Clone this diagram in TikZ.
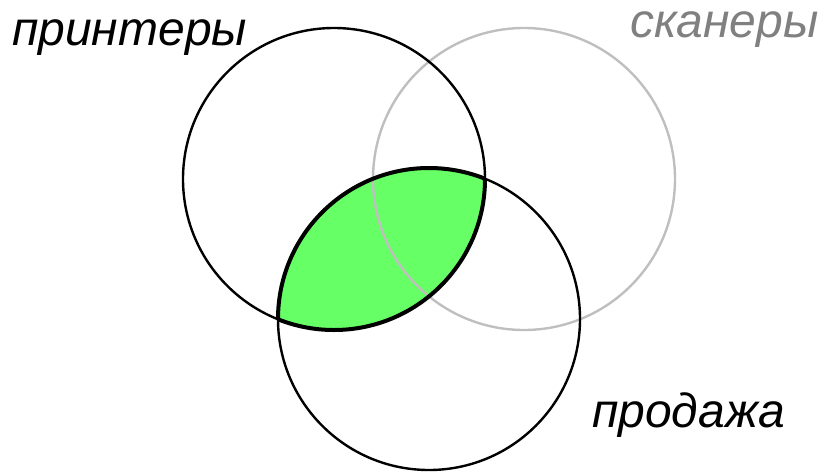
\documentclass[tikz,border=0pt]{standalone}
\usepackage{fontspec}
\setmainfont{Liberation Sans}
\usepackage{xcolor}
\usetikzlibrary{positioning}

\definecolor{lensgreen}{HTML}{66FF66}
\definecolor{scangray}{HTML}{BFBFBF}
\definecolor{labelgray}{HTML}{808080}

\tikzset{
  setlabel/.style={anchor=base west, inner sep=0pt, font=\itshape\fontsize{48}{52}\selectfont},
  ring/.style={line width=2.4pt},
}

\begin{document}
\begin{tikzpicture}[x=1pt, y=-1pt]
  \def\r{151}
  \useasboundingbox (0,0) rectangle (827,472);

  \coordinate (printers) at (334,179);
  \coordinate (scanners) at (524,179);
  \coordinate (sales) at (429,319);

  % printers and sales overlap
  \begin{scope}
    \clip (printers) circle (\r);
    \fill[lensgreen] (sales) circle (\r);
  \end{scope}

  % circles
  \draw[ring, scangray] (scanners) circle (\r);
  \draw[ring] (printers) circle (\r);
  \draw[ring] (sales) circle (\r);

  % outline of the overlap
  \begin{scope}
    \clip (sales) circle (\r);
    \draw[line width=4pt] (printers) circle (\r);
  \end{scope}
  \begin{scope}
    \clip (printers) circle (\r);
    \draw[line width=4pt] (sales) circle (\r);
  \end{scope}

  % labels
  \node[setlabel] (lblprinters) at (12,45) {принтеры};
  \node[setlabel, text=labelgray] (lblscanners) at (630,37) {сканеры};
  \node[setlabel] (lblsales) at (592,427) {продажа};
\end{tikzpicture}
\end{document}
